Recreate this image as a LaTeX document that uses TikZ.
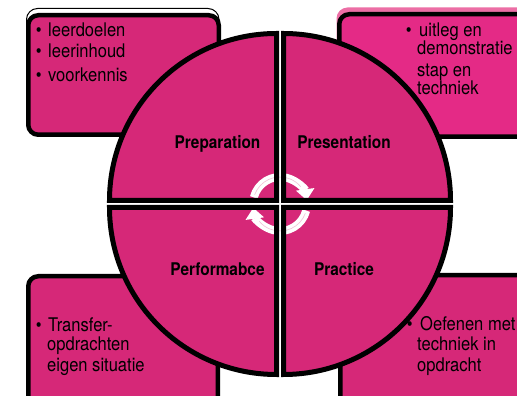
\documentclass[tikz,border=0pt]{standalone}
\usepackage{fontspec}
\setmainfont{TeX Gyre Heros}[FakeStretch=0.88]
\usetikzlibrary{arrows.meta}
\definecolor{qpink}{RGB}{214,40,120}
\definecolor{tpink}{RGB}{228,42,134}
\definecolor{spink}{RGB}{236,110,165}
\begin{document}
\begin{tikzpicture}[x=1pt,y=1pt,
  box/.style={draw=black, line width=4.5pt, fill=qpink, rounded corners=10pt},
  quadfill/.style={fill=qpink},
  quadline/.style={draw=black, line width=5pt, line join=miter},
  txt/.style={inner sep=0pt, anchor=base west, font=\fontsize{18.8}{22}\selectfont, text=black},
  lab/.style={inner sep=0pt, anchor=base, font=\fontsize{17.5}{20}\selectfont\bfseries, text=black},
  cyc/.style={draw=white, line width=8pt, -{Triangle[width=18pt,length=11pt]}},
  cycline/.style={draw=qpink!30, line width=0.6pt},
]
\useasboundingbox (0,0) rectangle (517,396);
\clip (0,0) rectangle (517,396);

% boxes behind the circle
\draw[line width=1pt, fill=white, rounded corners=11pt] (26.5,262) rectangle (219,387.5);
\draw[box] (28.25,261.25) rectangle (218.75,380.75);
\fill[spink, rounded corners=11pt] (336.5,260) rectangle (540,388.5);
\draw[box, fill=tpink] (339.25,259.25) rectangle (540,381.75);
\draw[box] (28.25,-20) rectangle (217.75,119.75);
\draw[box] (340.25,-20) rectangle (540,120.75);

% quadrant corners
\coordinate (c1) at (276.5,195.5);
\coordinate (c2) at (283.5,195.5);
\coordinate (c3) at (276.5,188.5);
\coordinate (c4) at (283.5,188.5);
\coordinate (cc) at (280,192);

\path[quadfill] (c1) -- ++(-167,0) arc[start angle=180,end angle=90,radius=167] -- cycle;
\path[quadfill] (c2) -- ++(0,167) arc[start angle=90,end angle=0,radius=167] -- cycle;
\path[quadfill] (c3) -- ++(-167,0) arc[start angle=180,end angle=270,radius=167] -- cycle;
\path[quadfill] (c4) -- ++(167,0) arc[start angle=0,end angle=-90,radius=167] -- cycle;

% cycle arrows
\draw[cyc] (cc) ++(166:27) arc[start angle=166,end angle=8,radius=27];
\draw[cyc] (cc) ++(346:27) arc[start angle=346,end angle=188,radius=27];
\draw[cycline] (cc) ++(160:27) arc[start angle=160,end angle=40,radius=27];
\draw[cycline] (cc) ++(340:27) arc[start angle=340,end angle=220,radius=27];

\draw[quadline] (c1) -- ++(-167,0) arc[start angle=180,end angle=90,radius=167] -- cycle;
\draw[quadline] (c2) -- ++(0,167) arc[start angle=90,end angle=0,radius=167] -- cycle;
\draw[quadline] (c3) -- ++(-167,0) arc[start angle=180,end angle=270,radius=167] -- cycle;
\draw[quadline] (c4) -- ++(167,0) arc[start angle=0,end angle=-90,radius=167] -- cycle;

% labels
\node[lab] (lprep) at (217.5,247) {Preparation};
\node[lab] (lpres) at (344,247) {Presentation};
\node[lab] (lperf) at (217.5,120) {Performabce};
\node[lab] (lprac) at (344,120) {Practice};

% top-left text
\node[txt] (b1) at (35.7,359) {•};
\node[txt] (t1) at (48,359) {leerdoelen};
\node[txt] (b2) at (35.7,338) {•};
\node[txt] (t2) at (48,338) {leerinhoud};
\node[txt] (b3) at (35.7,314) {•};
\node[txt] (t3) at (48,314) {voorkennis};

% top-right text
\node[txt] (b4) at (405.7,359) {•};
\node[txt] (t4) at (419,359) {uitleg en};
\node[txt] (t5) at (417,341) {demonstratie};
\node[txt] (t6) at (417,319) {stap en};
\node[txt] (t7) at (417,301) {techniek};

% bottom-left text
\node[txt] (b5) at (35.7,64) {•};
\node[txt] (t8) at (48,64) {Transfer-};
\node[txt] (t9) at (47,45) {opdrachten};
\node[txt] (t10) at (47,24) {eigen situatie};

% bottom-right text
\node[txt] (b6) at (406.7,65) {•};
\node[txt] (t11) at (420,65) {Oefenen met};
\node[txt] (t12) at (417,45) {techniek in};
\node[txt] (t13) at (417,24) {opdracht};
\end{tikzpicture}
\end{document}
